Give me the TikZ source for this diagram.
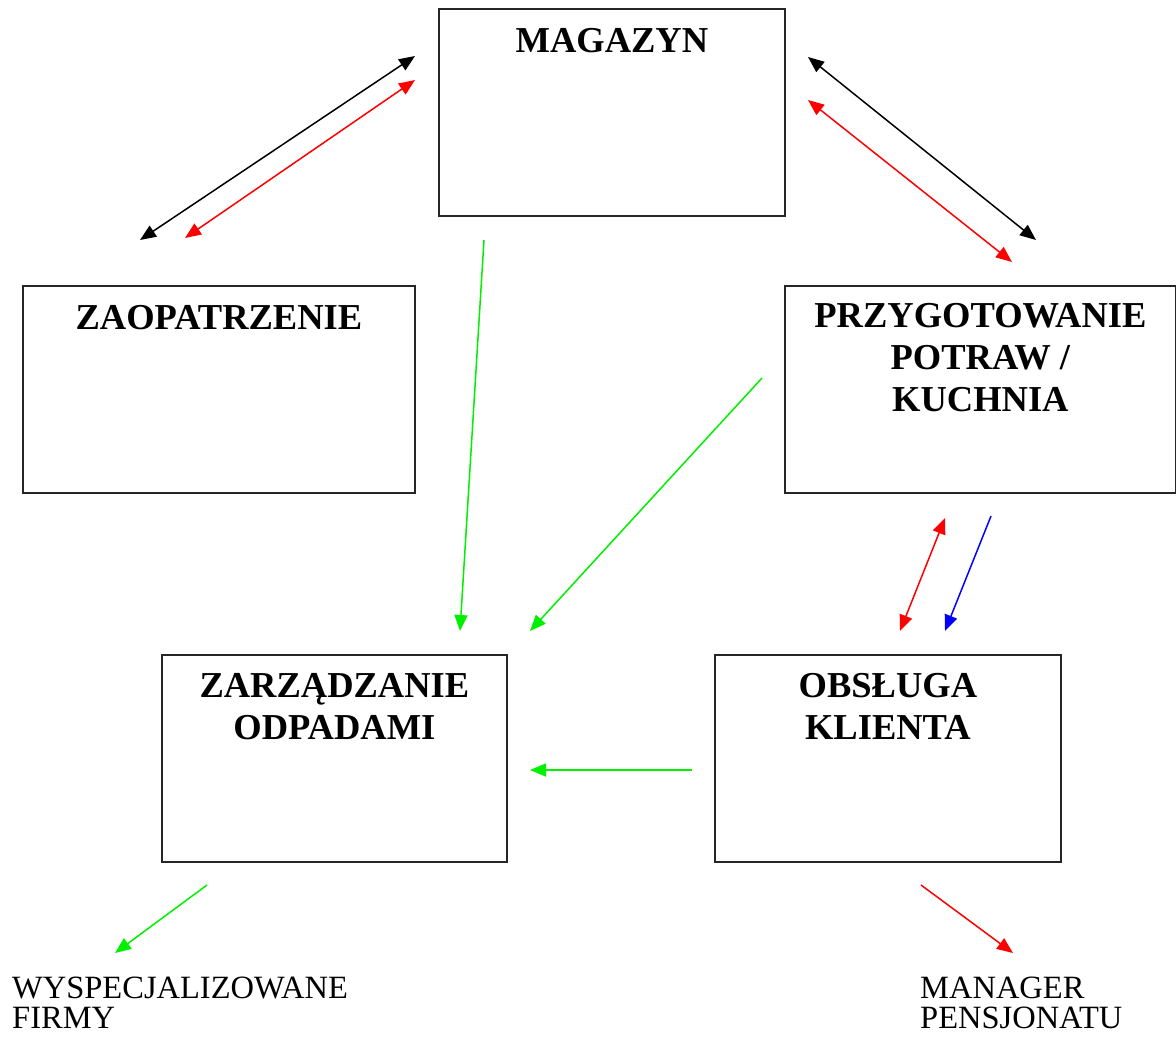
\documentclass[tikz,border=0pt]{standalone}
\usepackage{fontspec}
\setmainfont{Liberation Serif}
\usetikzlibrary{arrows.meta}
\definecolor{pgreen}{RGB}{0,240,0}
\definecolor{pred}{RGB}{255,0,0}
\definecolor{pblue}{RGB}{0,0,255}
\begin{document}
\begin{tikzpicture}[x=1pt,y=-1pt,
  box/.style={draw=black!85, line width=1.8pt, minimum width=#1, minimum height=207pt, inner sep=0pt, anchor=north west},
  title/.style={anchor=north, align=center, inner sep=0pt, font=\bfseries\fontsize{36.5}{42}\selectfont},
  plain/.style={anchor=north west, align=left, inner sep=0pt, font=\fontsize{32.5}{30}\selectfont},
  conn/.style={line width=1.5pt},
  both/.style={conn, {Triangle[length=16pt,width=13pt]}-{Triangle[length=16pt,width=13pt]}},
  one/.style={conn, -{Triangle[length=16pt,width=13pt]}}
]
\useasboundingbox (0,0) rectangle (1176,1037);

% boxes
\node[box=346pt] (mag) at (438,8) {};
\node[box=392pt] (zao) at (22,285) {};
\node[box=391pt] (kuch) at (784,285) {};
\node[box=345pt] (odp) at (161,654) {};
\node[box=346pt] (obs) at (714,654) {};

% titles
\node[title] (tmag) at ([yshift=-20pt]mag.north) {MAGAZYN};
\node[title] (tzao) at ([yshift=-20pt]zao.north) {ZAOPATRZENIE};
\node[title] (tkuch) at ([yshift=-18pt]kuch.north) {PRZYGOTOWANIE\\POTRAW /\\KUCHNIA};
\node[title] (todp) at ([yshift=-19pt]odp.north) {ZARZĄDZANIE\\ODPADAMI};
\node[title] (tobs) at ([yshift=-19pt]obs.north) {OBSŁUGA\\KLIENTA};

% outside labels
\node[plain] (firmy) at (12,977) {WYSPECJALIZOWANE\\FIRMY};
\node[plain] (man) at (920,977) {MANAGER\\PENSJONATU};

% connector end points
\coordinate (a1) at (140,240); \coordinate (a2) at (415,56);
\coordinate (b1) at (185,238); \coordinate (b2) at (415,80);
\coordinate (c1) at (808,57);  \coordinate (c2) at (1036,240);
\coordinate (d1) at (808,100); \coordinate (d2) at (1012,262);
\coordinate (e1) at (484,240); \coordinate (e2) at (460,631);
\coordinate (f1) at (762,378); \coordinate (f2) at (530,631);
\coordinate (g1) at (945,518); \coordinate (g2) at (900,631);
\coordinate (h1) at (991,516); \coordinate (h2) at (945,631);
\coordinate (i1) at (692,770); \coordinate (i2) at (530,770);
\coordinate (j1) at (207,885); \coordinate (j2) at (115,953);
\coordinate (k1) at (921,885); \coordinate (k2) at (1013,953);

% connectors
\draw[both, black] (a1) -- (a2);
\draw[both, pred] (b1) -- (b2);
\draw[both, black] (c1) -- (c2);
\draw[both, pred] (d1) -- (d2);
\draw[one, pgreen] (e1) -- (e2);
\draw[one, pgreen] (f1) -- (f2);
\draw[both, pred] (g1) -- (g2);
\draw[one, pblue] (h1) -- (h2);
\draw[one, pgreen] (i1) -- (i2);
\draw[one, pgreen] (j1) -- (j2);
\draw[one, pred] (k1) -- (k2);
\end{tikzpicture}
\end{document}
